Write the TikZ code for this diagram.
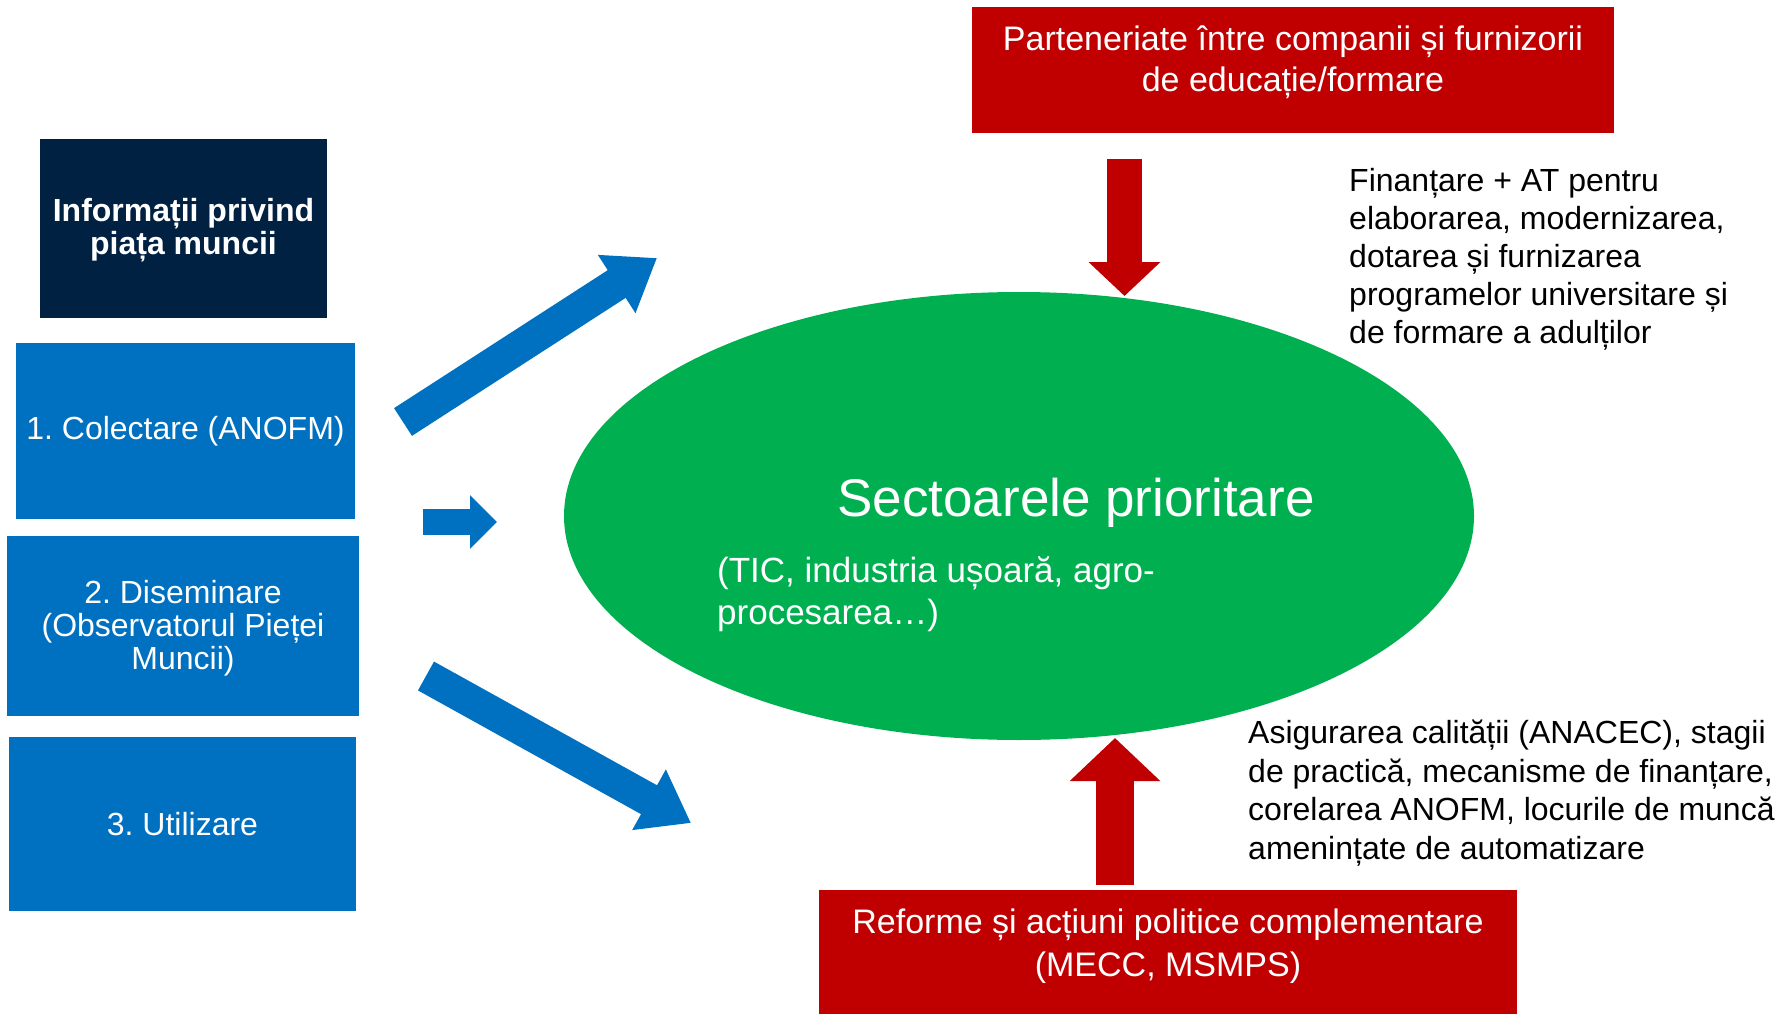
\documentclass[tikz,border=0pt]{standalone}
\usepackage{fontspec}
\setmainfont{Liberation Sans}
\usepackage{xcolor}
\usetikzlibrary{arrows.meta,positioning,shapes.geometric}
\frenchspacing

\definecolor{navy}{HTML}{002142}
\definecolor{stepblue}{HTML}{0070C0}
\definecolor{darkred}{HTML}{C00000}
\definecolor{prioritygreen}{HTML}{00B050}

\begin{document}
\begin{tikzpicture}[x=1pt, y=-1pt,
    bluebox/.style={fill=stepblue, inner sep=0pt, text=white, align=center,
        font=\fontsize{32}{33}\selectfont},
    redbox/.style={fill=darkred, inner sep=0pt},
    whitetext/.style={text=white, align=center, inner sep=0pt,
        font=\fontsize{34}{41}\selectfont},
    sidetext/.style={anchor=north west, align=left, inner sep=0pt},
    bluearrow/.style={draw=stepblue, line width=33pt, -{Triangle[length=48pt, width=66pt]}},
    redarrow/.style={draw=darkred, line width=36pt, -{Triangle[length=38pt, width=72pt]}}]
    \useasboundingbox (0,0) rectangle (1785,1014);

    % Labour market information column
    \node[fill=navy, inner sep=0pt, minimum width=287pt, minimum height=179pt] (info) at (183.5,228.5) {};
    \node[text=white, align=center, inner sep=0pt, font=\bfseries\fontsize{32}{33}\selectfont]
        (infotext) at (183.5,230.5) {Informații privind\\piața muncii};
    \node[bluebox, minimum width=339pt, minimum height=176pt] (collect) at (185.5,431) {1. Colectare (ANOFM)};
    \node[bluebox, minimum width=352pt, minimum height=180pt] (spread) at (183,626) {};
    \node[bluebox] (spreadtext) at (183,628) {2. Diseminare\\(Observatorul Pieței\\Muncii)};
    \node[bluebox, minimum width=347pt, minimum height=174pt] (use) at (182.5,824) {3. Utilizare};

    % Priority sectors
    \node[ellipse, fill=prioritygreen, inner sep=0pt, minimum width=910pt, minimum height=448pt] (sectors) at (1019,516) {};
    \node[text=white, inner sep=0pt, font=\fontsize{53}{60}\selectfont] (title) at (1076,503) {Sectoarele prioritare};
    \node[text=white, anchor=west, align=left, inner sep=0pt, font=\fontsize{35}{42}\selectfont]
        (list) at (717,594) {(TIC, industria ușoară, agro-\\procesarea…)};

    % Blue arrows
    \coordinate (up1) at (403,422);
    \coordinate (up2) at (657,258);
    \coordinate (mid1) at (423,522);
    \coordinate (mid2) at (497,522);
    \coordinate (low1) at (426,676);
    \coordinate (low2) at (691,823);
    \draw[bluearrow] (up1) -- (up2);
    \draw[bluearrow, line width=26pt, -{Triangle[length=27pt, width=52pt]}] (mid1) -- (mid2);
    \draw[bluearrow] (low1) -- (low2);

    % Partnerships box
    \node[redbox, minimum width=642pt, minimum height=126pt] (partner) at (1293,70) {};
    \node[whitetext, below=19pt of partner.north] (partnertext) {Parteneriate între companii și furnizorii\\de educație/formare};
    \coordinate (down1) at (1124.5,159);
    \coordinate (down2) at (1124.5,296);
    \draw[redarrow, line width=35pt, -{Triangle[length=34pt, width=70pt]}] (down1) -- (down2);
    \node[sidetext, font=\fontsize{32}{38}\selectfont] (funding) at (1349,168)
        {Finanțare + AT pentru\\elaborarea, modernizarea,\\dotarea și furnizarea\\programelor universitare și\\de formare a adulților};

    % Reforms box
    \node[redbox, minimum width=698pt, minimum height=124pt] (reform) at (1168,952) {};
    \node[whitetext, font=\fontsize{34}{43}\selectfont, below=19pt of reform.north] (reformtext) {Reforme și acțiuni politice complementare\\(MECC, MSMPS)};
    \coordinate (rise1) at (1115,885);
    \coordinate (rise2) at (1115,738);
    \draw[redarrow, line width=38pt, -{Triangle[length=43pt, width=88pt]}] (rise1) -- (rise2);
    \node[sidetext, font=\fontsize{32}{38.5}\selectfont] (quality) at (1248,720)
        {Asigurarea calității (ANACEC), stagii\\de practică, mecanisme de finanțare,\\corelarea ANOFM, locurile de muncă\\amenințate de automatizare};
\end{tikzpicture}
\end{document}
